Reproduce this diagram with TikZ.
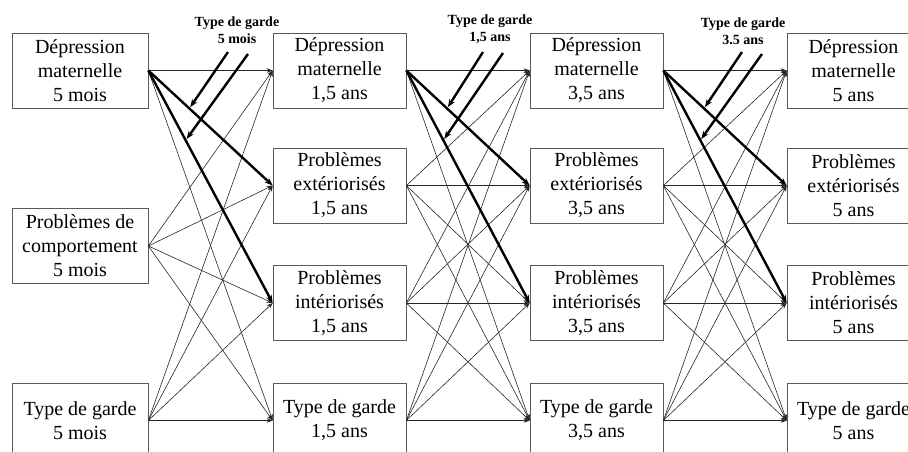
\documentclass[tikz,border=0pt]{standalone}
\usepackage{fontspec}
\setmainfont{Liberation Serif}
\usetikzlibrary{arrows.meta}
\begin{document}
\begin{tikzpicture}[x=1pt,y=-1pt,
  box/.style={draw=black!65, line width=0.7pt, minimum width=133pt,
    minimum height=75pt, align=center, inner sep=0pt,
    font=\fontsize{20}{24}\selectfont},
  lag/.style={line width=0.6pt, draw=black!85, -{Stealth[length=6pt,width=4.5pt]}},
  key/.style={line width=2.4pt, -{Stealth[length=8pt,width=6pt]}},
  mod/.style={line width=2.4pt, shorten >=1.5pt, -{Stealth[length=8pt,width=6pt]}},
  glabel/.style={font=\bfseries\fontsize{14}{17}\selectfont, align=center, inner sep=0pt}]

\useasboundingbox (0,0) rectangle (908,451);
\clip (0,0) rectangle (908,451);

% first wave (5 mois)
\node[box, minimum width=136pt] (n11) at (80,70.5)  {Dépression\\maternelle\\5 mois};
\node[box, minimum width=136pt] (n12) at (80,246)   {Problèmes de\\comportement\\5 mois};
\node[box, minimum width=136pt] (n14) at (80,420.5) {Type de garde\\5 mois};

% later waves
\foreach \c/\x/\age in {2/339.5/{1,5 ans}, 3/596.5/{3,5 ans}, 4/853.5/{5 ans}} {
  \node[box] (n\c1) at (\x,70.5)  {Dépression\\maternelle\\\age};
  \node[box] (n\c2) at (\x,185.5) {Problèmes\\extériorisés\\\age};
  \node[box] (n\c3) at (\x,303)   {Problèmes\\intériorisés\\\age};
  \node[box] (n\c4) at (\x,420.5) {Type de garde\\\age};
}

% cross-lagged paths (thin)
\foreach \s in {1,2,4} \foreach \t in {1,2,3,4} {
  \pgfmathtruncatemacro\isbold{and(\s==1, or(\t==2,\t==3))}
  \ifnum\isbold=0 \draw[lag] (n1\s.east) -- (n2\t.west); \fi
}
\foreach \c/\n in {2/3,3/4} \foreach \s in {1,2,3,4} \foreach \t in {1,2,3,4} {
  \pgfmathtruncatemacro\isbold{and(\s==1, or(\t==2,\t==3))}
  \ifnum\isbold=0 \draw[lag] (n\c\s.east) -- (n\n\t.west); \fi
}

% moderated paths (thick)
\draw[key] (n11.east) -- (n22.west) coordinate[pos=0.33] (m1);
\draw[key] (n11.east) -- (n23.west) coordinate[pos=0.30] (m2);
\draw[key] (n21.east) -- (n32.west) coordinate[pos=0.33] (m3);
\draw[key] (n21.east) -- (n33.west) coordinate[pos=0.30] (m4);
\draw[key] (n31.east) -- (n42.west) coordinate[pos=0.33] (m5);
\draw[key] (n31.east) -- (n43.west) coordinate[pos=0.30] (m6);

% moderators
\node[glabel] (g1) at (237,30) {Type de garde\\5 mois};
\node[glabel] (g2) at (490,29) {Type de garde\\1,5 ans};
\node[glabel] (g3) at (743,31) {Type de garde\\3.5 ans};

\coordinate (g1a) at (228,52); \coordinate (g1b) at (248,54);
\coordinate (g2a) at (483,52); \coordinate (g2b) at (503,53);
\coordinate (g3a) at (742,52); \coordinate (g3b) at (762,54);

\draw[mod] (g1a) -- (m1);
\draw[mod] (g1b) -- (m2);
\draw[mod] (g2a) -- (m3);
\draw[mod] (g2b) -- (m4);
\draw[mod] (g3a) -- (m5);
\draw[mod] (g3b) -- (m6);
\end{tikzpicture}
\end{document}
